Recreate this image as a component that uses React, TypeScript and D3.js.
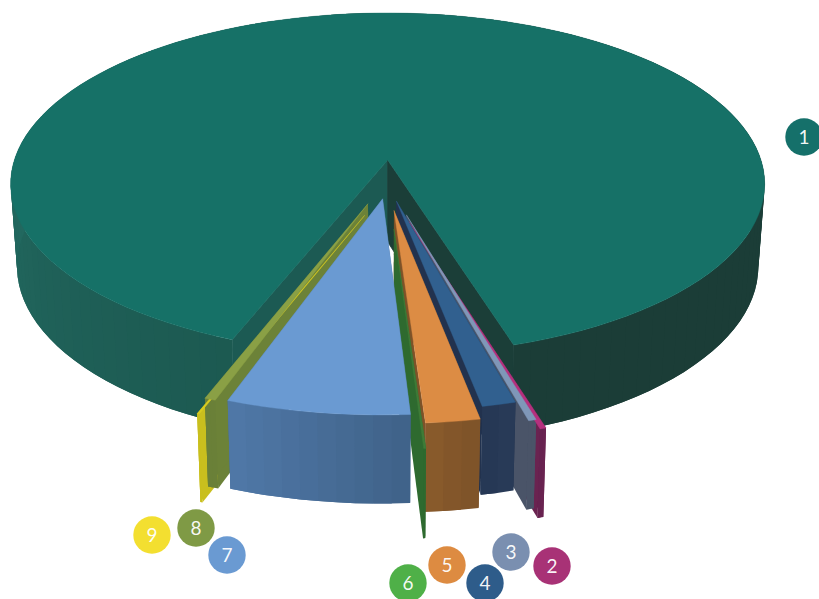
import React from "react";
import * as d3 from "d3";

// Segment labels and their share of the whole pie, clockwise.
const labels = ["1", "2", "3", "4", "5", "6", "7", "8", "9"];
const shares = [89.38, 0.22, 0.28, 1.22, 1.94, 0.08, 6.4, 0.4, 0.08];

// How far each segment is pulled out of the pie, its sideways drift and its radius.
const pullOut = [0.12, 0.24, 0.2, 0.12, 0.17, 0.27, 0.105, 0.14, 0.21];
const drift = [0.004, -0.006, 0.002, 0.004, 0.003, 0.007, 0.01, 0.006, 0.025];
const reach = [1, 1, 1, 1, 1, 1, 1.03, 1, 1];

const topColors = ["#167167", "#b5307e", "#7f97b8", "#31608f", "#dc8c44", "#3f7c38", "#6a9ad2", "#8aa045", "#d8cc20"];
const rimColors = [
  ["#1d5a53", "#22695f"],
  ["#6a2350", "#662250"],
  ["#4a5468", "#4a5468"],
  ["#283a58", "#263854"],
  ["#7d5228", "#8a5b2c"],
  ["#2e6a2f", "#2e6a2f"],
  ["#3f6288", "#5078a8"],
  ["#6a8038", "#6a8038"],
  ["#c9bf1e", "#c9bf1e"],
];
const sideColors = ["#1c4a44", "#6a2350", "#4a5468", "#22324e", "#7d5228", "#2e6a2f", "#46698f", "#6c8238", "#c9bf1e"];
const badgeColors = ["#15706a", "#a83276", "#7a8fb0", "#2e5c8a", "#dd8b41", "#4fb048", "#6a9ad2", "#7f9a45", "#f3df30"];

// Painting order: the walls of every segment first, then the top faces.
const wallOrder = [0, 8, 7, 1, 2, 3, 4, 5, 6];
const topOrder = [0, 8, 7, 5, 1, 2, 3, 4, 6];

// Badge centres around the pie.
const badgeX = [804, 552, 511, 485, 447, 408, 227, 196, 152];
const badgeY = [137, 566, 552, 583, 565, 583, 555, 528, 535];

const WIDTH = 819;
const HEIGHT = 599;
const PERSPECTIVE = 0.14;
const HUB: [number, number] = [-0.008, 0.12];
const DEG = Math.PI / 180;

const xTop = d3.scaleLinear().domain([0, 1]).range([387.5, 760.8]);
const yTop = d3.scaleLinear().domain([0, 1]).range([160, 327.6]);
const xBase = d3.scaleLinear().domain([0, 1]).range([387.5, 754.5]);
const yBase = d3.scaleLinear().domain([0, 1]).range([242, 414]);

type Pt = [number, number];
const toTop = ([x, y]: Pt): Pt => {
  const w = 1 - PERSPECTIVE * y;
  return [xTop(x / w), yTop(y / w)];
};
const toBase = ([x, y]: Pt): Pt => {
  const w = 1 - PERSPECTIVE * y;
  return [xBase(x / w), yBase(y / w)];
};

const outline = d3.line<Pt>();
const closed = (pts: Pt[]) => outline(pts) + "Z";

const START = -158.77;
const arcs = d3
  .pie<number>()
  .sort(null)
  .startAngle(START * DEG)
  .endAngle((START + 360) * DEG)(shares);

// Slice one's long rim is lit from the left and falls into shadow on the right.
const bigRim = d3
  .scaleLinear<string>()
  .domain([-160, -75, 40, 165])
  .range(["#1c5951", "#236b62", "#1b3d37", "#1b3d37"]);

function geometry(i: number) {
  const a = arcs[i];
  const mid = (a.startAngle + a.endAngle) / 2;
  const apex: Pt = [
    HUB[0] + drift[i] + pullOut[i] * Math.sin(mid),
    HUB[1] - pullOut[i] * Math.cos(mid),
  ];
  const r = reach[i];
  const at = (t: number): Pt => [apex[0] + r * Math.sin(t), apex[1] - r * Math.cos(t)];
  const span = a.endAngle - a.startAngle;
  const steps = Math.max(2, Math.ceil(span / (2.5 * DEG)));
  const angles = d3.range(steps + 1).map((k) => a.startAngle + (span * k) / steps);
  return { a, apex, rim: angles.map(at), angles, steps };
}

function Walls({ i }: { i: number }) {
  const { a, apex, rim, angles, steps } = geometry(i);
  const shade =
    i === 0
      ? (t: number) => bigRim(t / DEG)
      : d3.scaleLinear<string>().domain([a.startAngle, a.endAngle]).range(rimColors[i]);
  const wallStart = rim[0];
  const wallEnd = rim[rim.length - 1];
  const startFill = i === 0 ? "#1c5a53" : sideColors[i];
  const endFill = i === 0 ? "#1b3e38" : sideColors[i];

  const cutFaces = (
    <>
      <path
        d={closed([toTop(apex), toTop(wallStart), toBase(wallStart), toBase(apex)])}
        fill={startFill}
        stroke={i === 0 ? startFill : "none"}
        strokeWidth={0.8}
      />
      <path
        d={closed([toTop(apex), toTop(wallEnd), toBase(wallEnd), toBase(apex)])}
        fill={endFill}
        stroke={i === 0 ? endFill : "none"}
        strokeWidth={0.8}
      />
    </>
  );
  const rimStrips = d3.range(steps).map((k) => {
    // Each strip runs under the next one so no hairline shows between them.
    const far = Math.min(k + 2, steps);
    const strip = rim.slice(k, far + 1);
    return (
      <path
        key={k}
        d={closed([...strip.map(toTop), ...strip.map(toBase).reverse()])}
        fill={shade((angles[k] + angles[k + 1]) / 2) as string}
      />
    );
  });

  // The large slice opens towards the viewer, so its cut faces sit in front of its rim;
  // on the small pulled-out segments the rim is the nearest surface.
  return i === 0 ? (
    <g>
      {rimStrips}
      {cutFaces}
    </g>
  ) : (
    <g>
      {cutFaces}
      {rimStrips}
    </g>
  );
}

function TopFace({ i }: { i: number }) {
  const { apex, rim } = geometry(i);
  return (
    <path
      d={closed([toTop(apex), ...rim.map(toTop)])}
      fill={topColors[i]}
      stroke={topColors[i]}
      strokeWidth={0.4}
      strokeLinejoin="round"
    />
  );
}

export default function App() {
  return (
    <svg
      width={WIDTH}
      height={HEIGHT}
      viewBox={`0 0 ${WIDTH} ${HEIGHT}`}
      style={{ position: "fixed", left: 0, top: 0, background: "#ffffff" }}
    >
      {wallOrder.map((i) => (
        <Walls key={i} i={i} />
      ))}
      {topOrder.map((i) => (
        <TopFace key={i} i={i} />
      ))}
      {labels.map((label, i) => (
        <g key={label}>
          <circle cx={badgeX[i]} cy={badgeY[i]} r={18.7} fill={badgeColors[i]} />
          <text
            x={badgeX[i]}
            y={badgeY[i]}
            dy="0.35em"
            textAnchor="middle"
            fontFamily="Lato, 'Open Sans', sans-serif"
            fontSize={19}
            fill="#ffffff"
            fillOpacity={0.95}
          >
            {label}
          </text>
        </g>
      ))}
    </svg>
  );
}
